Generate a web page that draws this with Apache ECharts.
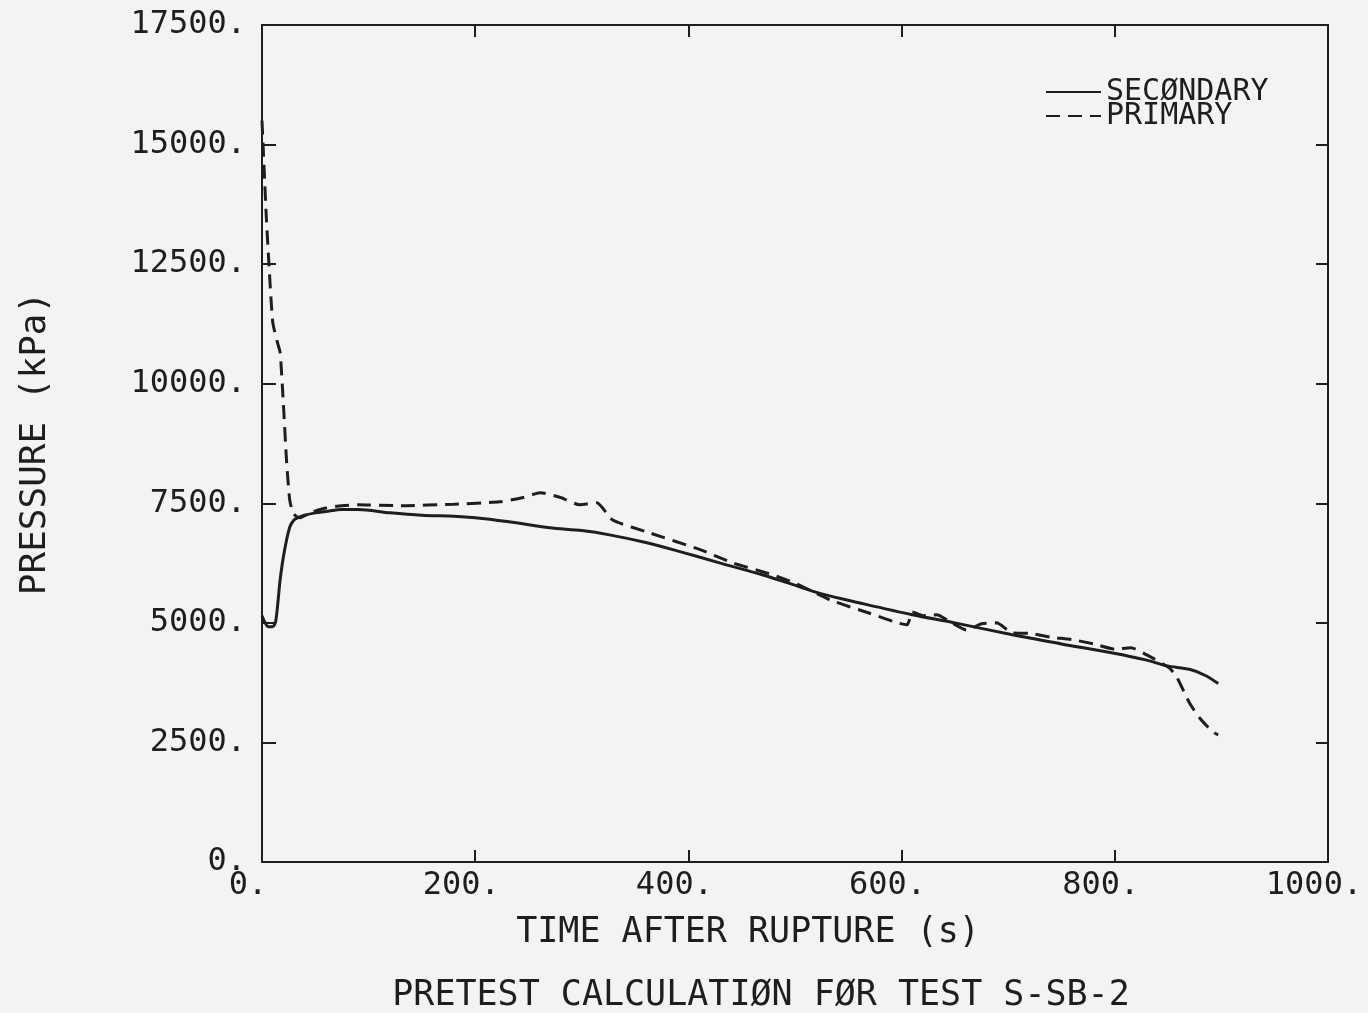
<!DOCTYPE html>
<html>
<head>
<meta charset="utf-8">
<script src="https://cdn.jsdelivr.net/npm/echarts@6/dist/echarts.min.js"></script>
<style>
html, body { margin: 0; padding: 0; background: #f3f3f3; }
#chart { width: 1368px; height: 1013px; }
</style>
</head>
<body>
<div id="chart"></div>
<script>
// time (s) and pressure (kPa)
var secTime = [0, 3, 6, 10, 13, 17, 21, 26, 30, 34, 40, 50, 60, 75, 90, 120, 150, 180, 200, 230,
  270, 300, 326, 360, 392, 430, 470, 505, 526, 560, 610, 650, 704, 750, 798, 830, 849, 870, 885, 897];
var secPres = [5150, 5000, 4920, 4920, 5050, 5900, 6500, 7000, 7150, 7200, 7250, 7300, 7330, 7370, 7370, 7300, 7250, 7230, 7200, 7120,
  6990, 6930, 6840, 6680, 6490, 6250, 6000, 5750, 5600, 5420, 5170, 5000, 4750, 4560, 4370, 4220, 4100, 4030, 3900, 3730];

var priTime = [0, 2, 4, 6, 10, 14, 17, 20, 23, 26, 29, 32, 36, 45, 60, 75, 90, 130, 180, 223,
  245, 261, 280, 298, 314, 329, 364, 411, 442, 480, 505, 533, 570, 605, 610, 620, 633, 647, 661, 675,
  689, 704, 720, 740, 760, 780, 800, 815, 830, 851, 858, 870, 880, 892, 897];
var priPres = [15500, 14500, 13500, 12700, 11300, 10900, 10650, 9600, 8400, 7570, 7300, 7230, 7200, 7300, 7400, 7450, 7470, 7450, 7480, 7530,
  7620, 7720, 7620, 7470, 7510, 7150, 6880, 6530, 6250, 6000, 5780, 5480, 5200, 4960, 5230, 5150, 5170, 5000, 4850, 4980,
  5000, 4790, 4780, 4700, 4650, 4560, 4450, 4480, 4330, 4060, 3870, 3330, 3000, 2720, 2660];

function pairs(t, p) {
  return t.map(function (v, i) { return [v, p[i]]; });
}

var font = 'DejaVu Sans Mono';
var ink = '#1e1e1e';

var chart = echarts.init(document.getElementById('chart'));

var option = {
  backgroundColor: '#f3f3f3',
  animation: false,
  title: [
    {
      text: 'TIME AFTER RUPTURE (s)',
      left: 743, top: 910, textAlign: 'center',
      textStyle: { fontFamily: font, fontSize: 35, fontWeight: 'normal', color: ink }
    },
    {
      text: 'PRETEST CALCULATIØN FØR TEST S-SB-2',
      left: 756, top: 973, textAlign: 'center',
      textStyle: { fontFamily: font, fontSize: 35, fontWeight: 'normal', color: ink }
    }
  ],
  legend: {
    orient: 'vertical',
    left: 1040, top: 72,
    itemWidth: 55, itemHeight: 14, itemGap: -6,
    data: ['SECØNDARY', 'PRIMARY'],
    itemStyle: { opacity: 0 },
    textStyle: { fontFamily: font, fontSize: 30, color: ink, lineHeight: 22 }
  },
  grid: { left: 262, right: 40, top: 25, bottom: 151 },
  xAxis: [
    {
      type: 'value', min: 0, max: 1000, interval: 200,
      axisLine: { onZero: false, lineStyle: { color: ink, width: 2 } },
      axisTick: { inside: true, length: 12, lineStyle: { color: ink, width: 2 } },
      axisLabel: {
        fontFamily: font, fontSize: 32, color: ink, margin: 8,
        padding: [0, 28, 0, 0],
        formatter: function (v) { return v + '.'; }
      },
      splitLine: { show: false }
    },
    {
      type: 'value', position: 'top', min: 0, max: 1000, interval: 200,
      axisLine: { onZero: false, lineStyle: { color: ink, width: 2 } },
      axisTick: { inside: true, length: 12, lineStyle: { color: ink, width: 2 } },
      axisLabel: { show: false },
      splitLine: { show: false }
    }
  ],
  yAxis: [
    {
      type: 'value', min: 0, max: 17500, interval: 2500,
      name: 'PRESSURE (kPa)', nameLocation: 'middle', nameGap: 208,
      nameTextStyle: { fontFamily: font, fontSize: 36, color: ink },
      axisLine: { onZero: false, lineStyle: { color: ink, width: 2 } },
      axisTick: { inside: true, length: 14, lineStyle: { color: ink, width: 2 } },
      axisLabel: {
        fontFamily: font, fontSize: 32, color: ink, margin: 16,
        formatter: function (v) { return v + '.'; }
      },
      splitLine: { show: false }
    },
    {
      type: 'value', position: 'right', min: 0, max: 17500, interval: 2500,
      axisLine: { show: true, onZero: false, lineStyle: { color: ink, width: 2 } },
      axisTick: { show: true, inside: true, length: 12, lineStyle: { color: ink, width: 2 } },
      axisLabel: { show: false },
      splitLine: { show: false }
    }
  ],
  series: [
    {
      name: 'SECØNDARY',
      type: 'line',
      symbol: 'none',
      smooth: 0.3,
      data: pairs(secTime, secPres),
      lineStyle: { color: ink, width: 3, type: 'solid' },
      itemStyle: { color: ink }
    },
    {
      name: 'PRIMARY',
      type: 'line',
      symbol: 'none',
      smooth: 0.2,
      data: pairs(priTime, priPres),
      lineStyle: { color: ink, width: 3, type: [14, 8] },
      itemStyle: { color: ink }
    }
  ]
};

chart.setOption(option);
</script>
</body>
</html>
